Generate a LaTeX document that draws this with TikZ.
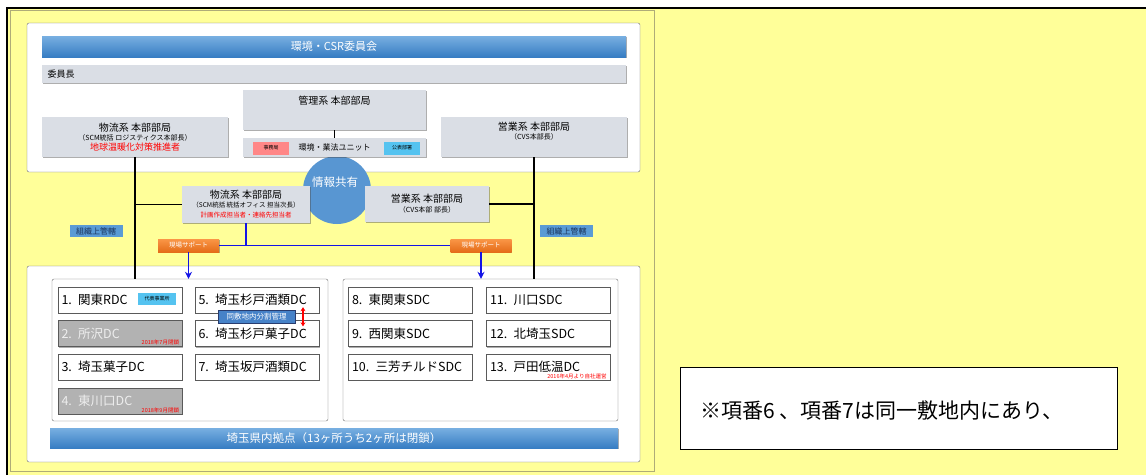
\documentclass[tikz,border=0pt]{standalone}
\usepackage{fontspec}
\setmainfont{Noto Sans CJK JP}
\usetikzlibrary{shadows,arrows.meta}
\begin{document}
\begin{tikzpicture}[x=1pt,y=-1pt,font=\fontsize{10}{12}\selectfont,
  sh/.style={drop shadow={shadow xshift=.8pt,shadow yshift=-1.4pt,opacity=.45,fill=black!70}},
  frame/.style={draw=framegray,fill=white,rounded corners=2pt,inner sep=0pt},
  bar/.style={top color=barlight,bottom color=bardark,text=white,inner sep=0pt,font=\fontsize{11}{13}\selectfont,sh},
  hq/.style={fill=hqgray,inner sep=0pt,align=center,sh},
  dc/.style={draw=dcgray,fill=white,text width=117pt,inner xsep=3.5pt,inner ysep=0pt,minimum height=26pt,align=left,font=\fontsize{12.5}{14}\selectfont,sh},
  closed/.style={dc,fill=closedgray,text=closedtext},
  tag/.style={inner sep=0pt,minimum height=11pt,font=\fontsize{5}{6}\selectfont},
  tiny/.style={text=red,font=\fontsize{5.5}{6}\selectfont,inner sep=0pt},
  org/.style={line width=1.3pt},
  support/.style={draw=supportblue,line width=1.3pt}]
\definecolor{bgyellow}{RGB}{255,255,153}
\definecolor{panelline}{RGB}{175,172,120}
\definecolor{framegray}{RGB}{110,110,110}
\definecolor{barlight}{RGB}{120,175,225}
\definecolor{bardark}{RGB}{55,125,195}
\definecolor{hqgray}{RGB}{218,222,229}
\definecolor{circleblue}{RGB}{88,150,210}
\definecolor{dcgray}{RGB}{90,90,90}
\definecolor{closedgray}{RGB}{178,178,178}
\definecolor{closedtext}{RGB}{238,238,238}
\definecolor{tagpink}{RGB}{255,135,135}
\definecolor{tagcyan}{RGB}{85,195,240}
\definecolor{orgblue}{RGB}{90,155,213}
\definecolor{orgtext}{RGB}{25,50,90}
\definecolor{orangelight}{RGB}{250,150,70}
\definecolor{orangedark}{RGB}{228,108,25}
\definecolor{supportblue}{RGB}{20,20,230}
\definecolor{splitblue}{RGB}{70,130,200}
\definecolor{splitedge}{RGB}{40,60,110}
\useasboundingbox (0,0) rectangle (1146,475);
\fill[white] (0,0) rectangle (1146,475);
\fill[bgyellow] (7,8) rectangle (1146,475);
\draw[line width=1.6pt] (7,475) -- (7,8) -- (1146,8);
\draw[panelline] (10.5,10.5) rectangle (654.5,471.5);
\node[frame,minimum width=613pt,minimum height=149pt] (topframe) at (333.5,97.5) {};
\node[frame,minimum width=613pt,minimum height=196pt] (baseframe) at (333.5,364) {};
\node[fill=circleblue,circle,minimum size=68pt,inner sep=0pt] (share) at (337,190) {};
\node[text=white,font=\fontsize{11.5}{13}\selectfont] (sharetxt) at (335,182) {情報共有};
\node[bar,minimum width=584pt,minimum height=21pt] (committee) at (334,46.5) {環境・CSR委員会};
\node[hq,minimum width=584pt,minimum height=18pt] (chairbar) at (334,74) {};
\node[anchor=west,font=\fontsize{9}{10}\selectfont] (chair) at (44,74) {委員長};
\node[hq,minimum width=183pt,minimum height=40pt] (mgmt) at (334.5,110) {};
\node (mgmttxt) at (334.5,101) {管理系 本部部局};
\node[hq,minimum width=183pt,minimum height=19pt] (unit) at (334.5,147.5) {\fontsize{8}{9}\selectfont 環境・業法ユニット};
\node[tag,fill=tagpink,minimum width=36pt,minimum height=13pt] (office) at (271,148) {事務局};
\node[tag,fill=tagcyan,minimum width=36pt,minimum height=13pt] (pr) at (402,148) {公表部署};
\draw[org] (mgmt.south) -- (unit.north);
\node[hq,minimum width=186pt,minimum height=40pt] (logi) at (135,137) {物流系 本部部局\\[-3pt]{\fontsize{7}{7}\selectfont （SCM統括 ロジスティクス本部長）}\\[-2pt]{\color{red}\fontsize{9}{9}\selectfont 地球温暖化対策推進者}};
\node[hq,minimum width=186pt,minimum height=40pt] (sales) at (534,137) {};
\node[align=center] (salestxt) at (534,131) {営業系 本部部局\\[-3pt]{\fontsize{7}{7}\selectfont （CVS本部長）}};
\node[hq,minimum width=128pt,minimum height=37pt] (mlogi) at (246,204.5) {物流系 本部部局\\[-3pt]{\fontsize{6.5}{7}\selectfont （SCM統括 統括オフィス 担当次長）}\\[-2pt]{\color{red}\fontsize{6.5}{7}\selectfont 計画作成担当者・連絡先担当者}};
\node[hq,minimum width=124pt,minimum height=36pt] (msales) at (427,204) {営業系 本部部局\\[-2pt]{\fontsize{7}{7}\selectfont （CVS本部 部長）}};
\node[frame,minimum width=276pt,minimum height=142pt] (lgroup) at (190,350) {};
\node[frame,minimum width=275pt,minimum height=142pt] (rgroup) at (480.5,350) {};
\draw[org] (logi.south) -- (logi.south |- lgroup.north);
\draw[org] (sales.south) -- (sales.south |- rgroup.north);
\draw[org] (mlogi.west) -- (mlogi.west -| logi.south);
\draw[org] (msales.east) -- (msales.east -| sales.south);
\node[tag,fill=orgblue,text=orgtext,minimum width=53pt,minimum height=12pt,font=\fontsize{8}{9}\selectfont] (orgL) at (96,231) {組織上管轄};
\node[tag,fill=orgblue,text=orgtext,minimum width=53pt,minimum height=12pt,font=\fontsize{8}{9}\selectfont] (orgR) at (566.5,231) {組織上管轄};
\node[tag,top color=orangelight,bottom color=orangedark,text=white,minimum width=61pt,minimum height=13pt,font=\fontsize{6.5}{7}\selectfont,sh] (supL) at (188.5,245.5) {現場サポート};
\node[tag,top color=orangelight,bottom color=orangedark,text=white,minimum width=61pt,minimum height=13pt,font=\fontsize{6.5}{7}\selectfont,sh] (supR) at (481,245.5) {現場サポート};
\draw[support] (mlogi.south) -- (mlogi.south |- supL.east);
\draw[support] (supL.east) -- (supR.west);
\draw[support,-{Stealth[length=7pt,width=7pt]}] (supL.south) -- (supL.south |- lgroup.north);
\draw[support,-{Stealth[length=7pt,width=7pt]}] (supR.south) -- (supR.south |- rgroup.north);
\node[dc] (dc1) at (120,300) {1. 関東RDC};
\node[tag,fill=tagcyan,minimum width=38pt,minimum height=12pt] (rep) at (157,299) {代表事業所};
\node[closed] (dc2) at (120,333.5) {2. 所沢DC};
\node[tiny,anchor=south east] (dc2note) at ([xshift=-3pt,yshift=1.5pt]dc2.south east) {2018年7月閉鎖};
\node[dc] (dc3) at (120,367) {3. 埼玉菓子DC};
\node[closed] (dc4) at (120,401) {4. 東川口DC};
\node[tiny,anchor=south east] (dc4note) at ([xshift=-3pt,yshift=1.5pt]dc4.south east) {2018年9月閉鎖};
\node[dc] (dc5) at (257,300) {5. 埼玉杉戸酒類DC};
\node[dc] (dc6) at (257,333.5) {6. 埼玉杉戸菓子DC};
\node[dc] (dc7) at (257,367) {7. 埼玉坂戸酒類DC};
\node[tag,fill=splitblue,draw=splitedge,text=white,minimum width=77pt,minimum height=13pt,font=\fontsize{7.5}{8}\selectfont] (split) at (256.5,316.5) {同敷地内分割管理};
\draw[red,line width=1.2pt,{Stealth[length=4pt,width=5pt]}-{Stealth[length=4pt,width=5pt]}] ([xshift=46pt,yshift=6pt]dc5.south) -- ([xshift=46pt,yshift=-6pt]dc6.north);
\node[dc] (dc8) at (410.5,300) {8. 東関東SDC};
\node[dc] (dc9) at (410.5,333.5) {9. 西関東SDC};
\node[dc] (dc10) at (410.5,367) {10. 三芳チルドSDC};
\node[dc] (dc11) at (548.5,300) {11. 川口SDC};
\node[dc] (dc12) at (548.5,333.5) {12. 北埼玉SDC};
\node[dc] (dc13) at (548.5,367) {13. 戸田低温DC};
\node[tiny,anchor=south east] (dc13note) at ([xshift=-4pt,yshift=1.5pt]dc13.south east) {2016年4月より自社運営};
\node[bar,minimum width=568pt,minimum height=20pt,font=\fontsize{11.5}{13}\selectfont] (base) at (334,438) {埼玉県内拠点（13ヶ所うち2ヶ所は閉鎖）};
\node[draw,fill=white,line width=.8pt,minimum width=437pt,minimum height=82pt,inner sep=0pt] (note) at (898.5,408) {};
\node[anchor=west,font=\fontsize{21}{23}\selectfont] (notetxt) at (697,410) {※項番6 、項番7は同一敷地内にあり、};
\end{tikzpicture}
\end{document}
